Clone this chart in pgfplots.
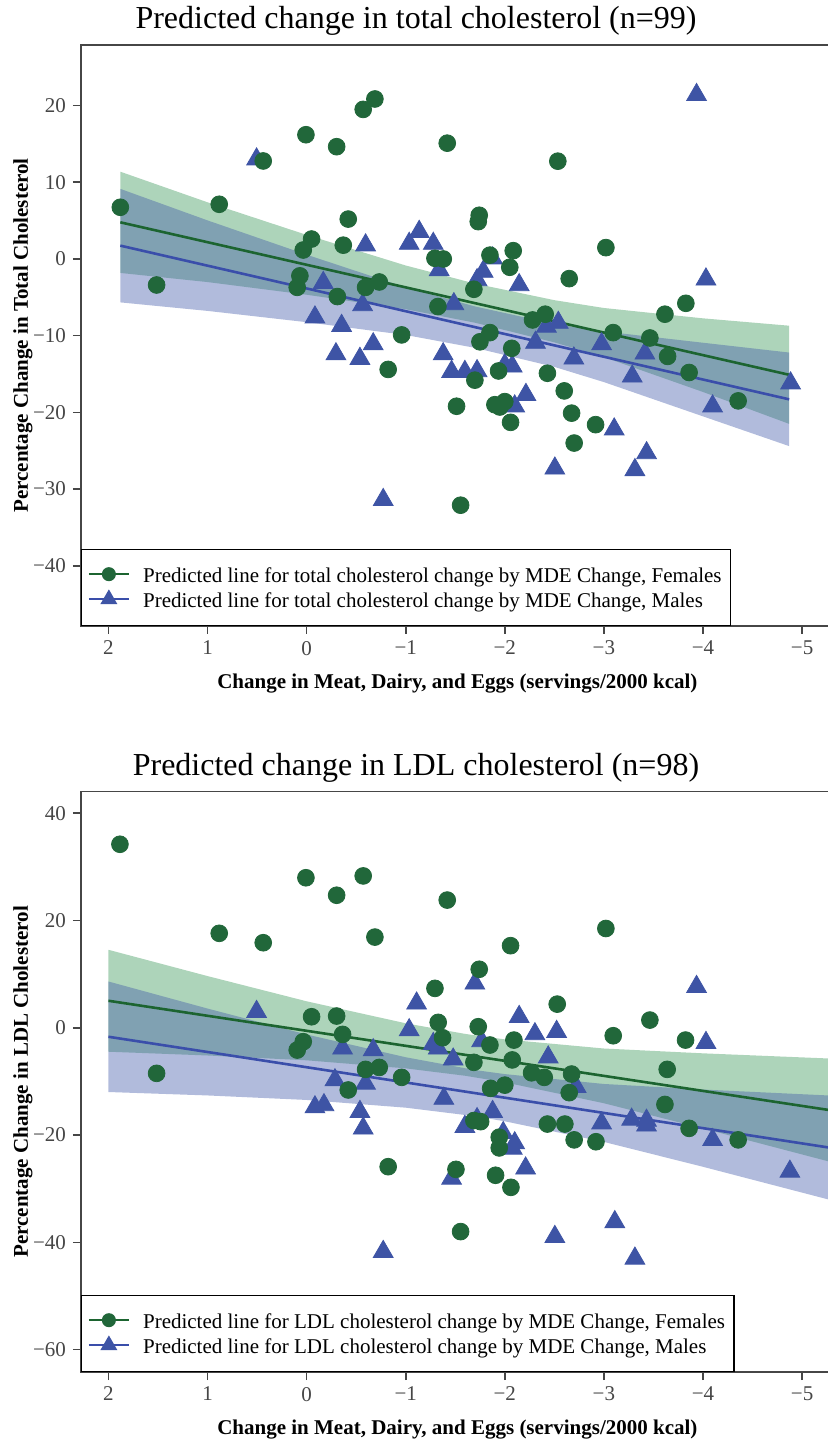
\documentclass[border=0pt]{standalone}
\usepackage{pgfplots}
\pgfplotsset{compat=1.18}
\usepackage{pgfplotstable}
\usepackage{fontspec}
\setmainfont{Liberation Serif}

\definecolor{gmark}{RGB}{33,103,58}
\definecolor{bmark}{RGB}{62,84,165}
\definecolor{gline}{RGB}{28,100,48}
\definecolor{bline}{RGB}{58,78,170}
\definecolor{gband}{RGB}{50,147,82}
\definecolor{bband}{RGB}{60,85,167}
\definecolor{axgray}{RGB}{70,70,70}

\pgfplotstableread{
x y
1.88 6.74
1.514 -3.39
0.882 7.13
0.438 12.78
0.007 16.2
-0.303 14.64
-0.571 19.5
-0.689 20.86
-0.42 5.2
-0.05 2.6
0.034 1.17
-0.37 1.8
0.068 -2.2
0.095 -3.7
-0.31 -4.9
-0.595 -3.7
-0.733 -3.0
-0.959 -9.9
-0.823 -14.4
-1.295 0.09
-1.379 0.0
-1.742 5.7
-1.732 4.87
-1.85 0.5
-2.085 1.08
-2.05 -1.08
-1.688 -3.95
-1.325 -6.2
-2.28 -7.95
-2.408 -7.2
-1.85 -9.6
-1.749 -10.8
-2.07 -11.65
-1.698 -15.8
-1.937 -14.6
-2.43 -14.9
-1.513 -19.2
-1.9 -19.0
-2.0 -18.6
-1.95 -19.3
-2.058 -21.3
-1.554 -32.1
-2.535 12.75
-1.419 15.1
-3.02 1.48
-2.65 -2.56
-3.827 -5.78
-3.616 -7.2
-3.094 -9.6
-3.464 -10.3
-3.643 -12.7
-3.86 -14.8
-4.355 -18.5
-2.6 -17.2
-2.674 -20.1
-2.916 -21.6
-2.7 -24.0
}\topF

\pgfplotstableread{
x y
0.505 13.0
-0.595 1.8
-1.035 2.0
-0.168 -3.1
-0.565 -6.0
-0.084 -7.6
-0.353 -8.7
-0.672 -11.1
-0.296 -12.4
-0.538 -13.0
-0.773 -31.4
-1.136 3.56
-1.278 2.0
-1.338 -1.43
-1.877 0.09
-1.782 -1.65
-1.72 -2.74
-2.145 -3.39
-1.486 -5.87
-2.42 -8.8
-2.54 -8.3
-2.31 -10.9
-1.378 -12.4
-1.463 -14.7
-1.597 -14.7
-1.72 -14.6
-2.0 -13.8
-2.075 -14.0
-2.1 -19.2
-2.213 -17.7
-2.505 -27.3
-3.935 21.4
-4.03 -2.65
-2.977 -11.1
-3.414 -12.3
-2.697 -12.95
-3.286 -15.3
-4.884 -16.2
-4.097 -19.2
-3.104 -22.2
-3.431 -25.3
-3.313 -27.5
}\topM

\pgfplotstableread{
x y
1.884 34.2
0.007 27.96
-0.303 24.7
-0.571 28.3
0.882 17.6
0.438 15.85
-0.689 16.9
-0.05 2.05
-0.303 2.18
-0.363 -1.24
0.034 -2.6
0.095 -4.16
-0.595 -7.76
-0.733 -7.4
-0.959 -9.25
1.514 -8.5
-0.42 -11.6
-0.823 -25.9
-1.419 23.8
-2.058 15.3
-1.742 10.9
-1.295 7.34
-2.529 4.4
-1.328 1.0
-1.372 -1.86
-1.732 0.19
-1.85 -3.22
-2.092 -2.3
-2.075 -6.0
-1.688 -6.45
-2.27 -8.4
-2.398 -9.25
-1.857 -11.3
-2.0 -10.7
-1.688 -17.3
-1.756 -17.5
-2.43 -17.95
-1.944 -20.4
-1.944 -22.4
-1.507 -26.4
-1.907 -27.5
-2.062 -29.75
-1.554 -38.0
-3.02 18.5
-3.094 -1.49
-3.464 1.43
-3.824 -2.3
-3.639 -7.76
-2.674 -8.63
-2.65 -12.1
-3.616 -14.3
-2.606 -17.95
-2.7 -20.9
-2.92 -21.25
-3.86 -18.75
-4.355 -20.9
}\botF

\pgfplotstableread{
x y
0.505 2.98
-0.363 -3.85
-0.672 -4.16
-1.035 -0.43
-1.11 4.55
-0.286 -9.75
-0.595 -10.4
-0.084 -14.8
-0.175 -14.4
-0.538 -15.66
-0.571 -18.75
-0.773 -41.75
-1.698 8.27
-2.145 2.05
-1.328 -3.85
-1.766 -2.48
-2.304 -1.17
-2.523 -0.74
-2.438 -5.5
-1.479 -5.9
-1.385 -13.2
-1.877 -15.66
-1.597 -18.45
-1.984 -19.6
-2.075 -22.5
-2.21 -26.2
-1.463 -28.1
-2.505 -38.96
-3.935 7.64
-4.03 -2.8
-2.72 -11.0
-2.977 -17.8
-3.28 -17.1
-3.43 -17.3
-3.43 -18.2
-4.097 -20.9
-4.877 -26.8
-3.11 -36.2
-3.313 -43.0
-1.278 -3.0
-1.72 -17.0
-2.1 -21.5
}\botM

\pgfplotsset{
  panel/.style={
    scale only axis, width=376.4pt,
    x dir=reverse, xmin=-5.32, xmax=2.277,
    axis line style={axgray, line width=0.8pt},
    every tick/.style={axgray, line width=0.8pt},
    tick align=outside, major tick length=4pt, tick pos=left,
    xtick={-5,-4,-3,-2,-1,0,1,2},
    xticklabels={−5,−4,−3,−2,−1,0,1,2},
    ticklabel style={font=\fontsize{10.5}{12}\selectfont, text=axgray},
    xlabel={Change in Meat, Dairy, and Eggs (servings/2000 kcal)},
    label style={font=\bfseries\fontsize{10.5}{12}\selectfont},
    title style={at={(0.445,1)}, anchor=base, yshift=2.2pt, font=\fontsize{16}{19}\selectfont},
    legend style={at={(0,0)}, anchor=south west, draw=black, line width=0.7pt,
      inner xsep=3pt, inner ysep=6.5pt, font=\fontsize{10.5}{12.5}\selectfont,
      nodes={inner sep=1.5pt, text height=8.7pt, text depth=0.8pt}, row sep=0pt,
      /tikz/every odd column/.append style={column sep=5pt}},
    legend cell align=left,
    legend image code/.code={\draw[mark repeat=2,mark phase=2,#1] plot coordinates {(0pt,0.3pt) (10pt,0.3pt) (20pt,0.3pt)};},
  },
  gpts/.style={only marks, mark=*, mark size=4.2pt, color=gmark, mark options={draw=gmark, fill=gmark}, forget plot},
  bpts/.style={only marks, mark=triangle*, mark size=5.7pt, color=bmark, mark options={draw=bmark, fill=bmark}, forget plot},
}

\begin{document}
\begin{tikzpicture}
% ---------- top panel ----------
\begin{axis}[panel, at={(40.5pt,410pt)}, anchor=south west, height=290.5pt,
  ymin=-47.85, ymax=27.9,
  ytick={-40,-30,-20,-10,0,10,20},
  yticklabels={−40,−30,−20,−10,0,10,20},
  ylabel={Percentage Change in Total Cholesterol},
  ylabel style={at={(axis description cs:-0.077,0.5)}, anchor=center},
  xlabel style={at={(axis description cs:0.5,-0.0998)}, anchor=center},
  title={Predicted change in total cholesterol (n=99)}]
\addplot[draw=none, fill=gband, fill opacity=0.4, forget plot] coordinates {
 (1.88,11.38) (1,7.39) (0,3.14) (-1,-0.85) (-1.7,-3.21) (-2.5,-5.37) (-3,-6.39) (-4,-7.74) (-4.87,-8.70)
 (-4.87,-21.50) (-4,-17.34) (-3,-12.79) (-2.5,-10.87) (-1.7,-8.31) (-1,-6.55) (0,-4.66) (1,-3.01) (1.88,-1.82)} -- cycle;
\addplot[draw=none, fill=bband, fill opacity=0.4, forget plot] coordinates {
 (1.88,9.14) (1,5.03) (0,0.56) (-1,-3.71) (-1.7,-6.19) (-2.5,-8.47) (-3,-9.45) (-4,-10.92) (-4.87,-12.20)
 (-4.87,-24.40) (-4,-20.52) (-3,-16.05) (-2.5,-14.07) (-1.7,-11.59) (-1,-9.91) (0,-8.24) (1,-6.77) (1.88,-5.66)} -- cycle;
\addplot[gline, line width=1.3pt, forget plot] coordinates {(1.88,4.78) (-4.87,-15.10)};
\addplot[bline, line width=1.3pt, forget plot] coordinates {(1.88,1.74) (-4.87,-18.30)};
\addplot[bpts] table[x=x,y=y]{\topM};
\addplot[gpts] table[x=x,y=y]{\topF};
\addlegendimage{gline, line width=1.2pt, mark=*, mark size=2.9pt, mark options={fill=gmark, draw=gmark}}
\addlegendentry{Predicted line for total cholesterol change by MDE Change, Females}
\addlegendimage{bline, line width=1.2pt, mark=triangle*, mark size=3.7pt, mark options={fill=bmark, draw=bmark}}
\addlegendentry{Predicted line for total cholesterol change by MDE Change, Males}
\end{axis}
% ---------- bottom panel ----------
\begin{axis}[panel, at={(40.5pt,37pt)}, anchor=south west, height=290.15pt,
  ymin=-64.17, ymax=44.0,
  ytick={-60,-40,-20,0,20,40},
  yticklabels={−60,−40,−20,0,20,40},
  ylabel={Percentage Change in LDL Cholesterol},
  ylabel style={at={(axis description cs:-0.077,0.5)}, anchor=center},
  xlabel style={at={(axis description cs:0.5,-0.09995)}, anchor=center},
  title={Predicted change in LDL cholesterol (n=98)}]
\addplot[draw=none, fill=gband, fill opacity=0.4, forget plot] coordinates {
 (2,14.53) (1,9.63) (0,4.93) (-1,0.83) (-1.6,-1.15) (-2,-2.17) (-3,-3.87) (-4,-4.77) (-5.32,-5.77)
 (-5.32,-25.17) (-4,-18.77) (-3,-14.07) (-2,-10.17) (-1.6,-8.95) (-1,-7.57) (0,-6.07) (1,-5.17) (2,-4.47)} -- cycle;
\addplot[draw=none, fill=bband, fill opacity=0.4, forget plot] coordinates {
 (2,8.62) (1,3.58) (0,-1.26) (-1,-5.5) (-1.7,-7.89) (-2,-8.64) (-3,-10.48) (-4,-11.52) (-5.32,-12.67)
 (-5.32,-32.27) (-4,-25.92) (-3,-21.28) (-2,-17.44) (-1.7,-16.49) (-1,-14.9) (0,-13.46) (1,-12.62) (2,-11.98)} -- cycle;
\addplot[gline, line width=1.3pt, forget plot] coordinates {(2,5.03) (-5.32,-15.47)};
\addplot[bline, line width=1.3pt, forget plot] coordinates {(2,-1.68) (-5.32,-22.47)};
\addplot[bpts] table[x=x,y=y]{\botM};
\addplot[gpts] table[x=x,y=y]{\botF};
\addlegendimage{gline, line width=1.2pt, mark=*, mark size=2.9pt, mark options={fill=gmark, draw=gmark}}
\addlegendentry{Predicted line for LDL cholesterol change by MDE Change, Females}
\addlegendimage{bline, line width=1.2pt, mark=triangle*, mark size=3.7pt, mark options={fill=bmark, draw=bmark}}
\addlegendentry{Predicted line for LDL cholesterol change by MDE Change, Males}
\end{axis}
\pgfresetboundingbox
\path[use as bounding box] (0pt,0pt) rectangle (413.5pt,723pt);
\end{tikzpicture}
\end{document}
